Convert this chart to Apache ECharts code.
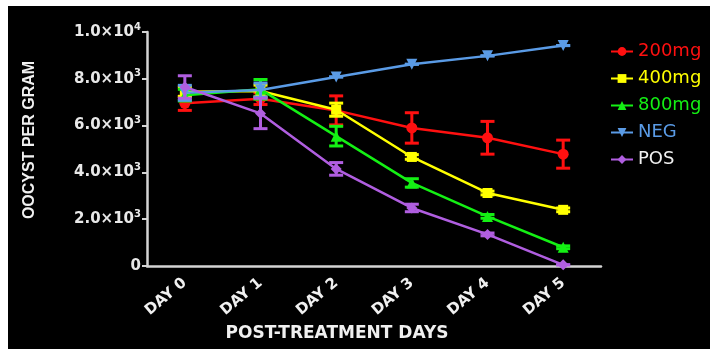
<!DOCTYPE html>
<html>
<head>
<meta charset="utf-8">
<script src="https://cdn.jsdelivr.net/npm/echarts@6/dist/echarts.min.js"></script>
<style>
html,body{margin:0;padding:0;background:#fff;width:710px;height:349px;overflow:hidden;}
#c{position:absolute;left:8px;top:6px;width:702px;height:343px;background:#000;}
</style>
</head>
<body>
<div id="c"></div>
<script>
const categories = ['DAY 0', 'DAY 1', 'DAY 2', 'DAY 3', 'DAY 4', 'DAY 5'];
const seriesNames = ['200mg', '400mg', '800mg', 'NEG', 'POS'];
const mg200 = [6950, 7150, 6650, 5900, 5480, 4780];
const mg200Err = [300, 250, 620, 650, 700, 600];
const mg400 = [7450, 7480, 6680, 4660, 3120, 2400];
const mg400Err = [200, 250, 280, 100, 80, 80];
const mg800 = [7300, 7550, 5550, 3550, 2120, 800];
const mg800Err = [250, 420, 420, 180, 80, 60];
const neg = [7400, 7520, 8080, 8620, 8980, 9420];
const negErr = [320, 300, 0, 0, 0, 0];
const pos = [7650, 6520, 4150, 2480, 1350, 50];
const posErr = [480, 650, 270, 160, 60, 0];
const yTicks = [0, 2000, 4000, 6000, 8000, 10000];

const colors = ['#ff1010', '#ffff00', '#14f014', '#5a9be6', '#b05ee0'];
const legendTextColors = ['#ff1010', '#ffff00', '#14f014', '#5a9be6', '#f0f0f0'];
const symbols = ['circle', 'rect', 'triangle', 'triangle', 'diamond'];
const rotations = [0, 0, 0, 180, 0];
const values = [mg200, mg400, mg800, neg, pos];
const errs = [mg200Err, mg400Err, mg800Err, negErr, posErr];

const chart = echarts.init(document.getElementById('c'));

function errSeries(i) {
  const data = values[i].map((v, k) => [k, v - errs[i][k], v + errs[i][k]]);
  return {
    type: 'custom',
    name: seriesNames[i],
    z: 2 + i,
    silent: true,
    data: data,
    renderItem: function (params, api) {
      const x = api.value(0);
      const lo = api.coord([x, api.value(1)]);
      const hi = api.coord([x, api.value(2)]);
      const w = 7;
      const st = { stroke: colors[i], lineWidth: 3 };
      return {
        type: 'group',
        children: [
          { type: 'line', shape: { x1: lo[0], y1: lo[1], x2: hi[0], y2: hi[1] }, style: st },
          { type: 'line', shape: { x1: lo[0] - w, y1: lo[1], x2: lo[0] + w, y2: lo[1] }, style: st },
          { type: 'line', shape: { x1: hi[0] - w, y1: hi[1], x2: hi[0] + w, y2: hi[1] }, style: st }
        ]
      };
    }
  };
}

const series = [];
for (let i = 0; i < 5; i++) {
  series.push({
    type: 'line',
    name: seriesNames[i],
    data: values[i],
    z: 2 + i,
    symbol: symbols[i],
    symbolSize: symbols[i] === 'rect' ? 10 : 11,
    symbolRotate: rotations[i],
    lineStyle: { color: colors[i], width: 2.5 },
    itemStyle: { color: colors[i] },
    animation: false
  });
  series.push(errSeries(i));
}

function yLabel(v) {
  if (v === 0) return '{m|0}';
  const e = Math.floor(Math.log10(v) + 1e-9);
  const m = (v / Math.pow(10, e)).toFixed(1);
  return '{m|' + m + '×10}{e|' + e + '}';
}

chart.setOption({
  backgroundColor: '#000',
  animation: false,
  grid: { left: 139, right: 109, top: 26, bottom: 83 },
  legend: {
    left: 597, top: 30, orient: 'vertical',
    itemWidth: 22, itemHeight: 11, itemGap: 6,
    textStyle: { fontFamily: 'DejaVu Sans', fontSize: 18, lineHeight: 21 },
    data: seriesNames.map((n, i) => ({ name: n, textStyle: { color: legendTextColors[i] } }))
  },
  xAxis: {
    type: 'category',
    data: categories,
    boundaryGap: true,
    axisLine: { lineStyle: { color: '#d4d4d4', width: 2.5 } },
    axisTick: { alignWithLabel: true, length: 5, lineStyle: { color: '#d4d4d4', width: 2 } },
    axisLabel: {
      rotate: 40, margin: 15, color: '#f0f0f0',
      fontFamily: 'DejaVu Sans', fontWeight: 'bold', fontSize: 15
    },
    splitLine: { show: false }
  },
  yAxis: {
    type: 'value', min: 0, max: 10000, interval: 2000,
    axisLine: { show: true, lineStyle: { color: '#d4d4d4', width: 2.5 } },
    axisTick: { show: true, length: 5, lineStyle: { color: '#d4d4d4', width: 2 } },
    axisLabel: {
      margin: 6, formatter: yLabel,
      rich: {
        m: { color: '#e8e8e8', fontFamily: 'DejaVu Sans', fontWeight: 'bold', fontSize: 15 },
        e: { color: '#e8e8e8', fontFamily: 'DejaVu Sans', fontWeight: 'bold', fontSize: 10, padding: [0, 0, 10, 0] }
      }
    },
    splitLine: { show: false }
  },
  graphic: [{
    type: 'text', x: 22, y: 134, rotation: Math.PI / 2,
    style: { text: 'OOCYST PER GRAM', fill: '#f0f0f0', font: 'bold 16px "Liberation Sans"', align: 'center', verticalAlign: 'middle' }
  }, {
    type: 'text', x: 329, y: 328,
    style: { text: 'POST-TREATMENT DAYS', fill: '#f0f0f0', font: 'bold 17px "DejaVu Sans"', align: 'center', verticalAlign: 'middle' }
  }],
  series: series
});
</script>
</body>
</html>
